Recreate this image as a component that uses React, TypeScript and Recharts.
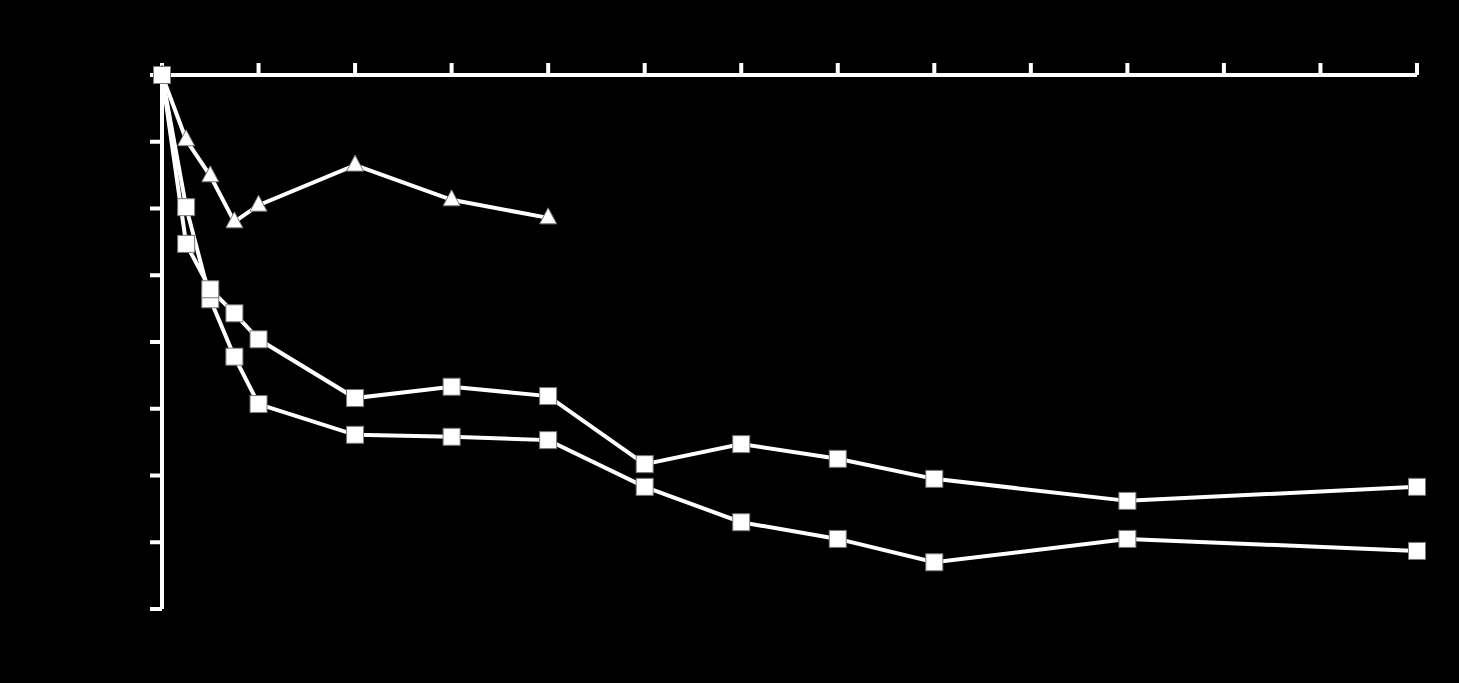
import React from 'react';
import { LineChart, Line, XAxis, YAxis } from 'recharts';

const times = [0, 0.25, 0.5, 0.75, 1, 2, 3, 4, 5, 6, 7, 8, 10, 13];
const seriesTriangle = [0, -0.97, -1.51, -2.2, -1.95, -1.35, -1.87, -2.14];
const seriesUpper = [0, -2.53, -3.21, -3.57, -3.96, -4.84, -4.67, -4.81, -5.83, -5.53, -5.75, -6.05, -6.38, -6.17];
const seriesLower = [0, -1.98, -3.36, -4.22, -4.93, -5.39, -5.42, -5.47, -6.17, -6.7, -6.95, -7.3, -6.95, -7.13];
const xTicks = [0, 1, 2, 3, 4, 5, 6, 7, 8, 9, 10, 11, 12, 13];
const yTicks = [0, -1, -2, -3, -4, -5, -6, -7, -8];

const data = times.map((t, i) => ({
  t,
  tri: seriesTriangle[i],
  upper: seriesUpper[i],
  lower: seriesLower[i],
}));

const SquareDot = (props: any) => {
  const { cx, cy, index } = props;
  if (cx == null || cy == null) return <g key={index} />;
  return <rect key={index} x={cx - 8.5} y={cy - 8.5} width={17} height={17} fill="#fff" stroke="#777" strokeWidth={1} />;
};

const TriangleDot = (props: any) => {
  const { cx, cy, index } = props;
  if (cx == null || cy == null) return <g key={index} />;
  return <path key={index} d={`M${cx},${cy - 10} L${cx + 8.5},${cy + 6} L${cx - 8.5},${cy + 6} Z`} fill="#fff" stroke="#777" strokeWidth={1} />;
};

const NoTick = () => <g />;

export default function App() {
  return (
    <div style={{ position: 'fixed', left: 0, top: 0, width: 1459, height: 683, background: '#000' }}>
      <LineChart width={1459} height={683} data={data} margin={{ top: 74, right: 42, bottom: 74, left: 161 }}>
        <XAxis
          dataKey="t"
          type="number"
          orientation="top"
          domain={[0, 13]}
          ticks={xTicks}
          height={1}
          tickSize={12}
          tick={NoTick}
          axisLine={{ stroke: '#fff', strokeWidth: 4 }}
          tickLine={{ stroke: '#fff', strokeWidth: 4 }}
        />
        <YAxis
          type="number"
          domain={[-8, 0]}
          ticks={yTicks}
          width={1}
          tickSize={12}
          tick={NoTick}
          axisLine={{ stroke: '#fff', strokeWidth: 4 }}
          tickLine={{ stroke: '#fff', strokeWidth: 4 }}
        />
        <Line dataKey="tri" stroke="#fff" strokeWidth={4} dot={TriangleDot} activeDot={false} isAnimationActive={false} />
        <Line dataKey="lower" stroke="#fff" strokeWidth={4} dot={SquareDot} activeDot={false} isAnimationActive={false} />
        <Line dataKey="upper" stroke="#fff" strokeWidth={4} dot={SquareDot} activeDot={false} isAnimationActive={false} />
      </LineChart>
    </div>
  );
}
